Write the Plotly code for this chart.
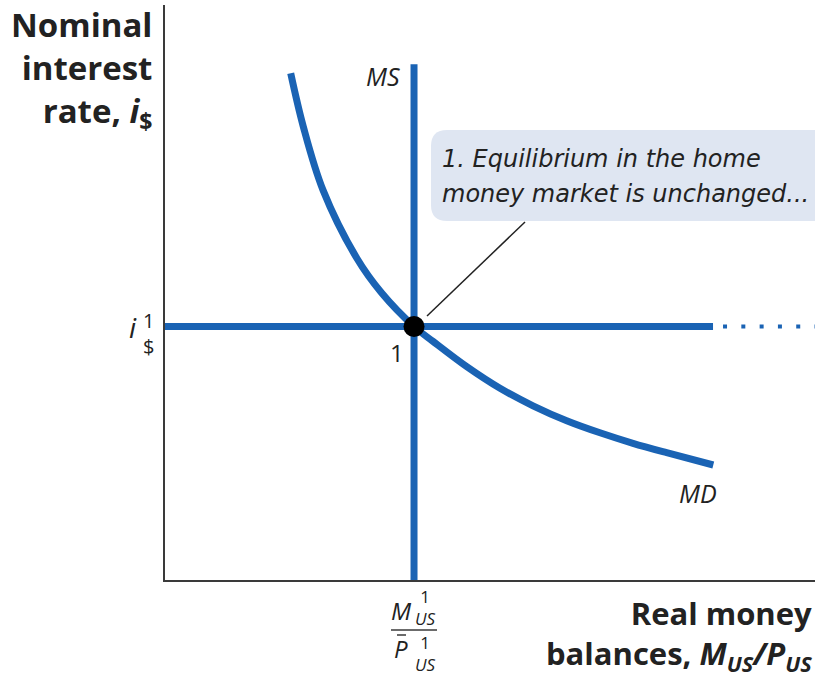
import plotly.graph_objects as go

# ---------------- data (abstract chart units, x 0-10, y 0-10) ----------------
md_x = [1.934, 2.128, 2.431, 2.949, 3.334, 3.831, 4.123, 4.642, 5.154, 5.662, 6.180, 6.692, 7.200, 7.718, 8.435]
md_y = [8.812, 7.883, 6.780, 5.600, 4.991, 4.409, 4.150, 3.710, 3.334, 3.030, 2.770, 2.560, 2.377, 2.214, 2.000]
ms_x = 3.831          # real money supply M1/P1
ms_top = 8.97
i_eq = 4.409          # equilibrium interest rate i$1
i_line_end = 8.431
i_dots = [8.585, 10.0]

callout_lines = ["1. Equilibrium in the home", "money market is unchanged..."]

BLUE = "#1a63b4"
AX = "#3a3a3a"
FONT = "Open Sans"

# plot-area geometry (pixels) for placing text
L, T, R, B = 165, 5, 815, 580
W, H = 815, 681


def X(px):
    return (px - L) / (R - L) * 10


def Y(py):
    return (B - py) / (B - T) * 10


def PX(px):
    return (px - L) / (R - L)


def PY(py):
    return (B - py) / (B - T)


fig = go.Figure()

# horizontal interest-rate line
fig.add_trace(go.Scatter(x=[0, i_line_end], y=[i_eq, i_eq], mode="lines",
                         line=dict(color=BLUE, width=7), hoverinfo="skip"))
# dotted extension
fig.add_trace(go.Scatter(x=i_dots, y=[i_eq, i_eq], mode="lines",
                         line=dict(color=BLUE, width=4, dash="4px,14.3px"), hoverinfo="skip"))
# MS
fig.add_trace(go.Scatter(x=[ms_x, ms_x], y=[0, ms_top], mode="lines",
                         line=dict(color=BLUE, width=7), hoverinfo="skip"))
# MD
fig.add_trace(go.Scatter(x=md_x, y=md_y, mode="lines",
                         line=dict(color=BLUE, width=7, shape="spline", smoothing=1.0), hoverinfo="skip"))
# pointer line
fig.add_trace(go.Scatter(x=[X(427), X(525)], y=[Y(316), Y(222)], mode="lines",
                         line=dict(color="#222", width=1.5), hoverinfo="skip"))
# equilibrium point
fig.add_trace(go.Scatter(x=[ms_x], y=[i_eq], mode="markers",
                         marker=dict(color="black", size=21), hoverinfo="skip"))

shapes = []
# rounded callout box
x0, x1, y0, y1 = X(431), X(840), Y(221), Y(130)
rx, ry = 16 / 65, 16 / 57.5
path = (f"M {x0+rx},{y1} L {x1},{y1} L {x1},{y0} L {x0+rx},{y0} "
        f"Q {x0},{y0} {x0},{y0+ry} L {x0},{y1-ry} Q {x0},{y1} {x0+rx},{y1} Z")
shapes.append(dict(type="path", path=path, xref="x", yref="y",
                   fillcolor="#dfe6f2", line=dict(width=0), layer="below"))
# fraction bar and overbar on P
shapes.append(dict(type="line", xref="paper", yref="paper", x0=PX(391), x1=PX(437),
                   y0=PY(630), y1=PY(630), line=dict(color=AX, width=1.5)))
shapes.append(dict(type="line", xref="paper", yref="paper", x0=PX(397), x1=PX(406),
                   y0=PY(635), y1=PY(635), line=dict(color=AX, width=1.5)))

ann = []


def txt(text, px, py, size, xanchor="center", yanchor="middle", align="center", italic=False, bold=False,
        color="#222", family=FONT):
    if italic:
        text = f"<i>{text}</i>"
    if bold:
        text = f"<b>{text}</b>"
    ann.append(dict(text=text, x=PX(px), y=PY(py), xref="paper", yref="paper",
                    xanchor=xanchor, yanchor=yanchor, align=align, showarrow=False,
                    font=dict(family=family, size=size, color=color)))


# axis titles
txt("Nominal<br>interest<br>rate, <i>i</i><sub>$</sub>", 154, 0, 33, xanchor="right", yanchor="top",
    align="right", bold=True)
txt("Real money<br>balances, <i>M</i><sub><i>US</i></sub><i>/P</i><sub><i>US</i></sub>", 814, 590, 31,
    xanchor="right", yanchor="top", align="right", bold=True)

# i$1 tick label
txt("i", 133, 327, 28, italic=True)
txt("1<br>$", 148, 333, 20)

# M1/P1 tick label
STACK = "1<br><i>US</i>"
txt("M", 401, 610, 24, italic=True)
txt(STACK, 425, 607, 17)
txt("P", 401, 648, 24, italic=True)
txt(STACK, 425, 653, 17)

# curve labels
txt("MS", 383, 76, 25, italic=True)
txt("MD", 698, 493, 25, italic=True)
txt("1", 397, 352, 24)

# callout text
txt(callout_lines[0], 440, 159, 24, xanchor="left", italic=True, family="DejaVu Sans")
txt(callout_lines[1], 440, 194, 24, xanchor="left", italic=True, family="DejaVu Sans")

fig.update_layout(
    width=W, height=H,
    margin=dict(l=L, r=W - R, t=T, b=H - B, pad=0),
    plot_bgcolor="white", paper_bgcolor="white",
    showlegend=False,
    xaxis=dict(range=[0, 10], showgrid=False, zeroline=False, showticklabels=False,
               ticks="", showline=True, linecolor=AX, linewidth=1.5),
    yaxis=dict(range=[0, 10], showgrid=False, zeroline=False, showticklabels=False,
               ticks="", showline=True, linecolor=AX, linewidth=1.5),
    shapes=shapes,
    annotations=ann,
)

fig.write_html("out.html", config={"displayModeBar": False},
               post_script="document.body.style.margin='0';document.documentElement.style.overflow='hidden';")
